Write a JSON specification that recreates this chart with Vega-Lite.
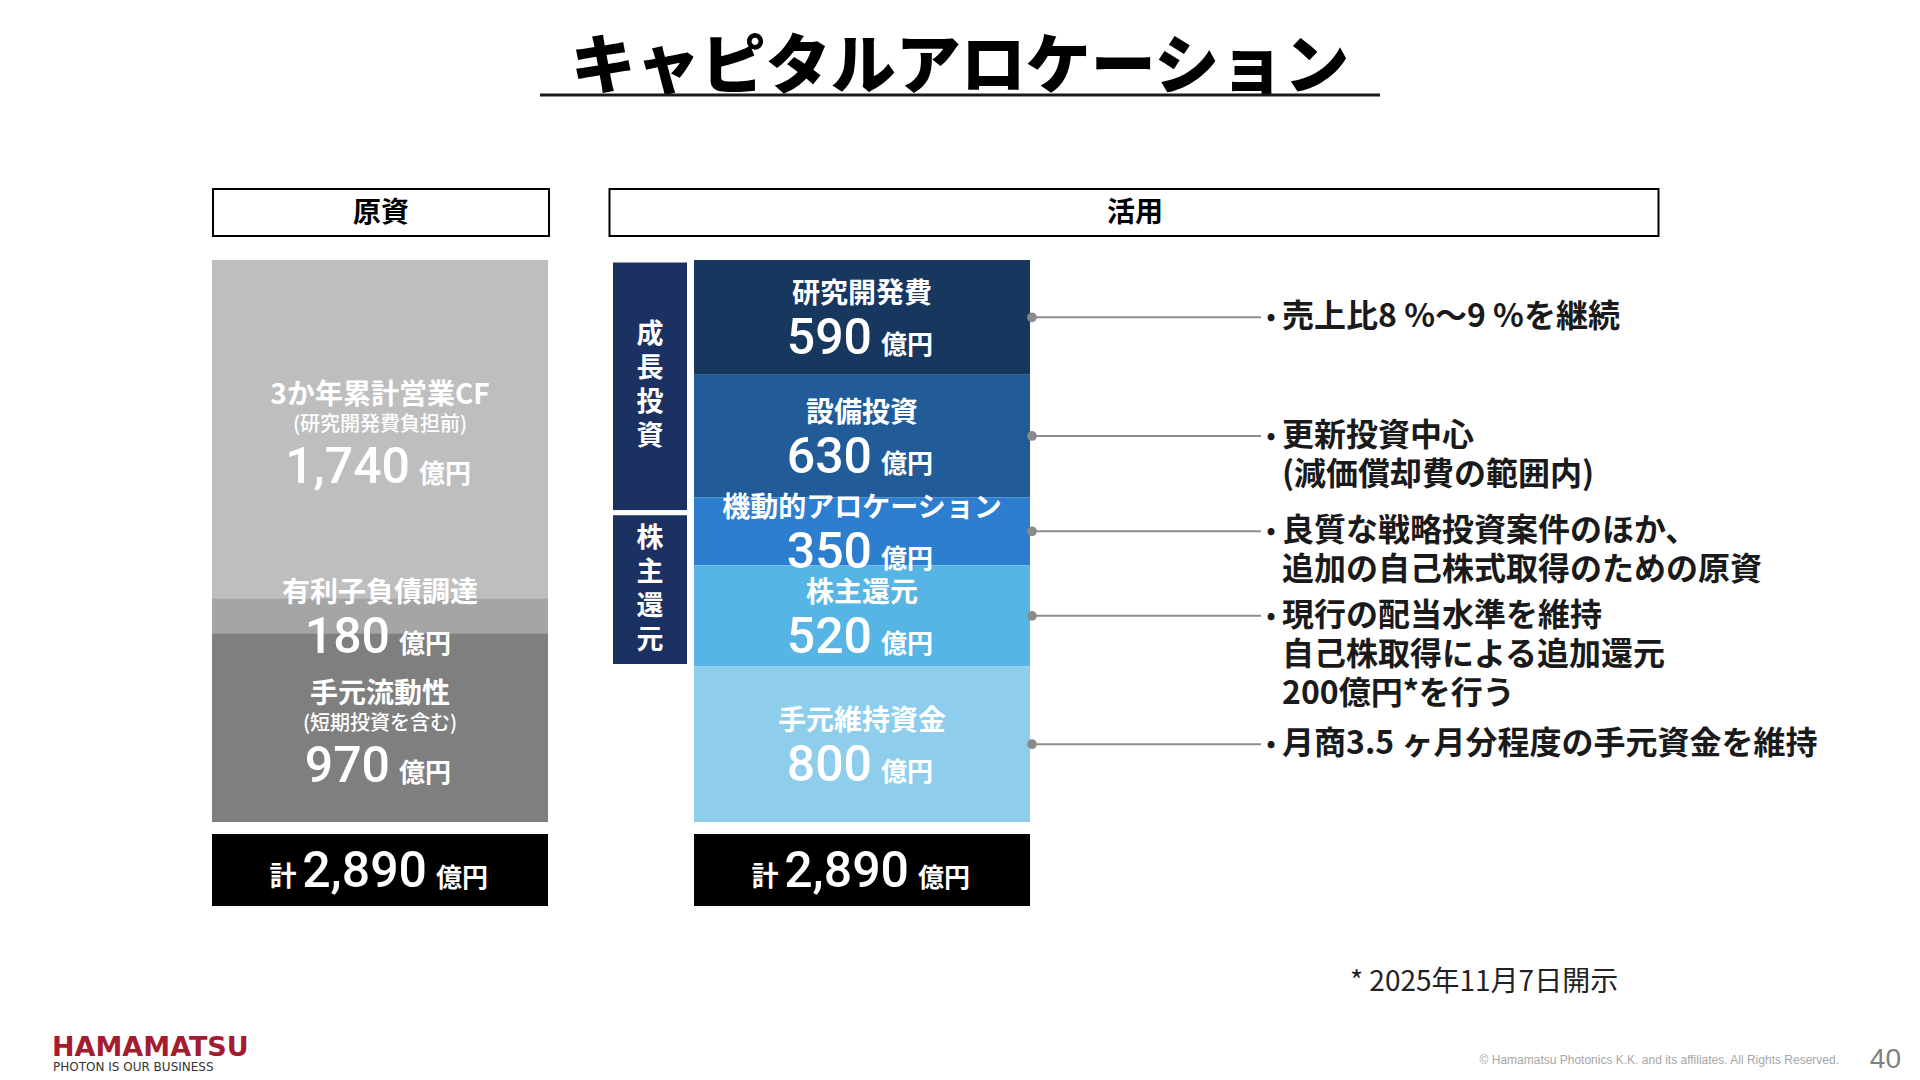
{
  "$schema": "https://vega.github.io/schema/vega-lite/v6.json",
  "width": 1920,
  "height": 1080,
  "autosize": {"type": "none"},
  "padding": 0,
  "background": "white",
  "config": {"view": {"stroke": null}, "text": {"font": "Noto Sans CJK JP"}},
  "datasets": {
    "items": [
      {"side": "原資", "item": "3か年累計営業CF", "sub": "(研究開発費負担前)", "amount": 1740, "rank": 1, "note": []},
      {"side": "原資", "item": "有利子負債調達", "sub": "", "amount": 180, "rank": 2, "note": []},
      {"side": "原資", "item": "手元流動性", "sub": "(短期投資を含む)", "amount": 970, "rank": 3, "note": []},
      {"side": "活用", "item": "研究開発費", "sub": "", "amount": 590, "rank": 1, "note": ["売上比8 %～9 %を継続"]},
      {"side": "活用", "item": "設備投資", "sub": "", "amount": 630, "rank": 2, "note": ["更新投資中心", "(減価償却費の範囲内)"]},
      {"side": "活用", "item": "機動的アロケーション", "sub": "", "amount": 350, "rank": 3, "note": ["良質な戦略投資案件のほか、", "追加の自己株式取得のための原資"]},
      {"side": "活用", "item": "株主還元", "sub": "", "amount": 520, "rank": 4, "note": ["現行の配当水準を維持", "自己株取得による追加還元", "200億円*を行う"]},
      {"side": "活用", "item": "手元維持資金", "sub": "", "amount": 800, "rank": 5, "note": ["月商3.5 ヶ月分程度の手元資金を維持"]}
    ],
    "groups": [
      {"side": "活用", "group": "成長投資", "chars": ["成", "長", "投", "資"], "amount": 1300, "rank": 1},
      {"side": "活用", "group": "株主還元", "chars": ["株", "主", "還", "元"], "amount": 790, "rank": 2},
      {"side": "活用", "group": "", "chars": [], "amount": 800, "rank": 3}
    ]
  },
  "layer": [
    {
      "data": {"values": [{"t": "キャピタルアロケーション"}]},
      "mark": {"type": "text", "x": 960, "y": 68, "align": "center", "baseline": "middle", "fontSize": 65, "fontWeight": 900, "color": "#000000"},
      "encoding": {"text": {"field": "t"}}
    },
    {
      "data": {"values": [{"t": "line"}]},
      "mark": {"type": "rule", "strokeWidth": 3, "color": "#1a1a1a"},
      "encoding": {"x": {"value": 540}, "x2": {"value": 1380}, "y": {"value": 95}}
    },
    {
      "data": {"name": "items"},
      "transform": [{"filter": {"field": "side", "equal": "原資"}}, {"aggregate": [{"op": "sum", "field": "amount", "as": "total"}], "groupby": ["side"]}],
      "mark": {"type": "bar", "fill": "white", "stroke": "#000000", "strokeWidth": 2, "yOffset": -71, "y2Offset": -24, "xOffset": 1},
      "encoding": {
        "x": {"field": "side", "type": "nominal", "axis": null, "scale": {"domain": ["原資", "活用"], "range": [212, 1030], "paddingInner": 0.3029, "paddingOuter": 0}},
        "y": {"field": "total", "type": "quantitative", "axis": null, "scale": {"domain": [0, 2890], "range": [822, 260], "nice": false, "zero": false}},
        "y2": {"field": "total"}
      }
    },
    {
      "data": {"name": "items"},
      "transform": [{"filter": {"field": "side", "equal": "活用"}}, {"aggregate": [{"op": "sum", "field": "amount", "as": "total"}], "groupby": ["side"]}],
      "mark": {"type": "bar", "fill": "white", "stroke": "#000000", "strokeWidth": 2, "width": 1049, "xOffset": 272, "yOffset": -71, "y2Offset": -24},
      "encoding": {
        "x": {"field": "side", "type": "nominal", "axis": null, "scale": {"domain": ["原資", "活用"], "range": [212, 1030], "paddingInner": 0.3029, "paddingOuter": 0}},
        "y": {"field": "total", "type": "quantitative", "axis": null},
        "y2": {"field": "total"}
      }
    },
    {
      "data": {"name": "items"},
      "transform": [{"aggregate": [{"op": "sum", "field": "amount", "as": "total"}], "groupby": ["side"]}],
      "mark": {"type": "text", "fontSize": 28, "fontWeight": "bold", "color": "#000000", "align": "center", "baseline": "middle", "dy": -46, "dx": {"expr": "datum.side === '活用' ? 273 : 1"}},
      "encoding": {
        "x": {"field": "side", "type": "nominal", "axis": null},
        "y": {"field": "total", "type": "quantitative", "axis": null},
        "text": {"field": "side"}
      }
    },
    {
      "data": {"name": "items"},
      "mark": {"type": "bar"},
      "encoding": {
        "x": {"field": "side", "type": "nominal", "axis": null},
        "y": {"field": "amount", "type": "quantitative", "stack": "zero", "axis": null},
        "order": {"field": "rank", "sort": "descending"},
        "color": {"field": "item", "type": "nominal", "legend": null, "scale": {"domain": ["3か年累計営業CF", "有利子負債調達", "手元流動性", "研究開発費", "設備投資", "機動的アロケーション", "株主還元", "手元維持資金"], "range": ["#BEBEBE", "#A5A5A5", "#7F7F7F", "#17375E", "#215C98", "#2E7ECF", "#56B5E4", "#8ECEEC"]}}
      }
    },
    {
      "data": {"name": "groups"},
      "mark": {"type": "bar", "width": 79, "xOffset": -212, "fill": "#1B3162", "stroke": "white", "strokeWidth": 5},
      "encoding": {
        "x": {"field": "side", "type": "nominal", "axis": null},
        "y": {"field": "amount", "type": "quantitative", "stack": "zero", "axis": null},
        "order": {"field": "rank", "sort": "descending"},
        "opacity": {"condition": {"test": "datum.group === ''", "value": 0}, "value": 1}
      }
    },
    {
      "data": {"name": "groups"},
      "mark": {"type": "text", "dx": -212, "dy": -51, "fontSize": 27, "fontWeight": "bold", "color": "white", "align": "center", "baseline": "middle", "lineHeight": 34},
      "encoding": {
        "x": {"field": "side", "type": "nominal", "axis": null},
        "y": {"field": "amount", "type": "quantitative", "stack": "zero", "bandPosition": 0.5, "axis": null},
        "order": {"field": "rank", "sort": "descending"},
        "text": {"field": "chars"}
      }
    },
    {
      "data": {"name": "items"},
      "mark": {"type": "text", "fontSize": 28, "fontWeight": "bold", "color": "#FFFFFF", "align": "center", "baseline": "middle", "dy": {"expr": "datum.sub ? -33 : -22"}},
      "encoding": {
        "x": {"field": "side", "type": "nominal", "axis": null},
        "y": {"field": "amount", "type": "quantitative", "stack": "zero", "bandPosition": 0.5, "axis": null},
        "order": {"field": "rank", "sort": "descending"},
        "text": {"field": "item"}
      }
    },
    {
      "data": {"name": "items"},
      "mark": {"type": "text", "fontSize": 20, "fontWeight": 500, "color": "#FFFFFF", "align": "center", "baseline": "middle", "dy": -4},
      "encoding": {
        "x": {"field": "side", "type": "nominal", "axis": null},
        "y": {"field": "amount", "type": "quantitative", "stack": "zero", "bandPosition": 0.5, "axis": null},
        "order": {"field": "rank", "sort": "descending"},
        "text": {"field": "sub"}
      }
    },
    {
      "data": {"name": "items"},
      "mark": {"type": "text", "font": "Roboto", "fontSize": 50, "fontWeight": 500, "color": "#FFFFFF", "align": "right", "baseline": "alphabetic", "dx": {"expr": "datum.amount >= 1000 ? 30 : 10"}, "dy": {"expr": "datum.sub ? 54 : 37"}},
      "encoding": {
        "x": {"field": "side", "type": "nominal", "axis": null},
        "y": {"field": "amount", "type": "quantitative", "stack": "zero", "bandPosition": 0.5, "axis": null},
        "order": {"field": "rank", "sort": "descending"},
        "text": {"field": "amount", "type": "quantitative", "format": ","}
      }
    },
    {
      "data": {"name": "items"},
      "mark": {"type": "text", "fontSize": 26, "fontWeight": "bold", "color": "#FFFFFF", "align": "left", "baseline": "alphabetic", "dx": {"expr": "datum.amount >= 1000 ? 39 : 19"}, "dy": {"expr": "datum.sub ? 54 : 37"}},
      "encoding": {
        "x": {"field": "side", "type": "nominal", "axis": null},
        "y": {"field": "amount", "type": "quantitative", "stack": "zero", "bandPosition": 0.5, "axis": null},
        "order": {"field": "rank", "sort": "descending"},
        "text": {"value": "億円"}
      }
    },
    {
      "data": {"name": "items"},
      "transform": [{"aggregate": [{"op": "sum", "field": "amount", "as": "total"}], "groupby": ["side"]}],
      "mark": {"type": "bar", "fill": "#000000", "yOffset": 12, "y2Offset": 84},
      "encoding": {
        "x": {"field": "side", "type": "nominal", "axis": null},
        "y": {"datum": 0, "type": "quantitative", "axis": null},
        "y2": {"datum": 0}
      }
    },
    {
      "data": {"name": "items"},
      "transform": [{"aggregate": [{"op": "sum", "field": "amount", "as": "total"}], "groupby": ["side"]}],
      "mark": {"type": "text", "fontSize": 27, "fontWeight": "bold", "color": "#FFFFFF", "align": "center", "baseline": "alphabetic", "dx": -97, "dy": 64},
      "encoding": {
        "x": {"field": "side", "type": "nominal", "axis": null},
        "y": {"datum": 0, "type": "quantitative", "axis": null},
        "text": {"value": "計"}
      }
    },
    {
      "data": {"name": "items"},
      "transform": [{"aggregate": [{"op": "sum", "field": "amount", "as": "total"}], "groupby": ["side"]}],
      "mark": {"type": "text", "font": "Roboto", "fontSize": 50, "fontWeight": 500, "color": "#FFFFFF", "align": "right", "baseline": "alphabetic", "dx": 47, "dy": 65},
      "encoding": {
        "x": {"field": "side", "type": "nominal", "axis": null},
        "y": {"datum": 0, "type": "quantitative", "axis": null},
        "text": {"field": "total", "type": "quantitative", "format": ","}
      }
    },
    {
      "data": {"name": "items"},
      "transform": [{"aggregate": [{"op": "sum", "field": "amount", "as": "total"}], "groupby": ["side"]}],
      "mark": {"type": "text", "fontSize": 26, "fontWeight": "bold", "color": "#FFFFFF", "align": "left", "baseline": "alphabetic", "dx": 56, "dy": 65},
      "encoding": {
        "x": {"field": "side", "type": "nominal", "axis": null},
        "y": {"datum": 0, "type": "quantitative", "axis": null},
        "text": {"value": "億円"}
      }
    },
    {
      "data": {"name": "items"},
      "transform": [{"filter": {"field": "side", "equal": "活用"}}],
      "mark": {"type": "rule", "color": "#8C8C8C", "strokeWidth": 2, "xOffset": 2, "x2Offset": 231},
      "encoding": {
        "x": {"field": "side", "type": "nominal", "bandPosition": 1, "axis": null},
        "x2": {"field": "side", "bandPosition": 1},
        "y": {"field": "amount", "type": "quantitative", "stack": "zero", "bandPosition": 0.5, "axis": null},
        "order": {"field": "rank", "sort": "descending"}
      }
    },
    {
      "data": {"name": "items"},
      "transform": [{"filter": {"field": "side", "equal": "活用"}}],
      "mark": {"type": "point", "filled": true, "size": 95, "opacity": 1, "color": "#8A8A8A", "xOffset": 2},
      "encoding": {
        "x": {"field": "side", "type": "nominal", "bandPosition": 1, "axis": null},
        "y": {"field": "amount", "type": "quantitative", "stack": "zero", "bandPosition": 0.5, "axis": null},
        "order": {"field": "rank", "sort": "descending"}
      }
    },
    {
      "data": {"name": "items"},
      "transform": [{"filter": {"field": "side", "equal": "活用"}}],
      "mark": {"type": "text", "fontSize": 24, "fontWeight": "bold", "color": "#1a1a1a", "align": "center", "baseline": "middle", "dx": 241, "dy": 1},
      "encoding": {
        "x": {"field": "side", "type": "nominal", "bandPosition": 1, "axis": null},
        "y": {"field": "amount", "type": "quantitative", "stack": "zero", "bandPosition": 0.5, "axis": null},
        "order": {"field": "rank", "sort": "descending"},
        "text": {"value": "•"}
      }
    },
    {
      "data": {"name": "items"},
      "transform": [{"filter": {"field": "side", "equal": "活用"}}],
      "mark": {"type": "text", "fontSize": 32, "fontWeight": "bold", "color": "#1a1a1a", "align": "left", "baseline": "top", "dx": 252, "dy": -15, "lineHeight": 39},
      "encoding": {
        "x": {"field": "side", "type": "nominal", "bandPosition": 1, "axis": null},
        "y": {"field": "amount", "type": "quantitative", "stack": "zero", "bandPosition": 0.5, "axis": null},
        "order": {"field": "rank", "sort": "descending"},
        "text": {"field": "note"}
      }
    },
    {
      "data": {"values": [{"t": "* 2025年11月7日開示"}]},
      "mark": {"type": "text", "x": 1350, "y": 983, "align": "left", "baseline": "middle", "fontSize": 28, "fontWeight": 400, "color": "#222222"},
      "encoding": {"text": {"field": "t"}}
    },
    {
      "data": {"values": [{"t": "© Hamamatsu Photonics K.K. and its affiliates. All Rights Reserved."}]},
      "mark": {"type": "text", "x": 1839, "y": 1060, "align": "right", "baseline": "middle", "fontSize": 12, "font": "Liberation Sans", "color": "#A6A6A6"},
      "encoding": {"text": {"field": "t"}}
    },
    {
      "data": {"values": [{"t": "40"}]},
      "mark": {"type": "text", "x": 1901, "y": 1060, "align": "right", "baseline": "middle", "fontSize": 28, "font": "Liberation Sans", "color": "#7F7F7F"},
      "encoding": {"text": {"field": "t"}}
    },
    {
      "data": {"values": [{"t": "HAMAMATSU"}]},
      "mark": {"type": "text", "x": 52, "y": 1048, "align": "left", "baseline": "middle", "fontSize": 27, "font": "DejaVu Sans", "fontWeight": "bold", "color": "#A51C30"},
      "encoding": {"text": {"field": "t"}}
    },
    {
      "data": {"values": [{"t": "PHOTON IS OUR BUSINESS"}]},
      "mark": {"type": "text", "x": 53, "y": 1067, "align": "left", "baseline": "middle", "fontSize": 12, "font": "DejaVu Sans", "color": "#333333"},
      "encoding": {"text": {"field": "t"}}
    }
  ]
}
